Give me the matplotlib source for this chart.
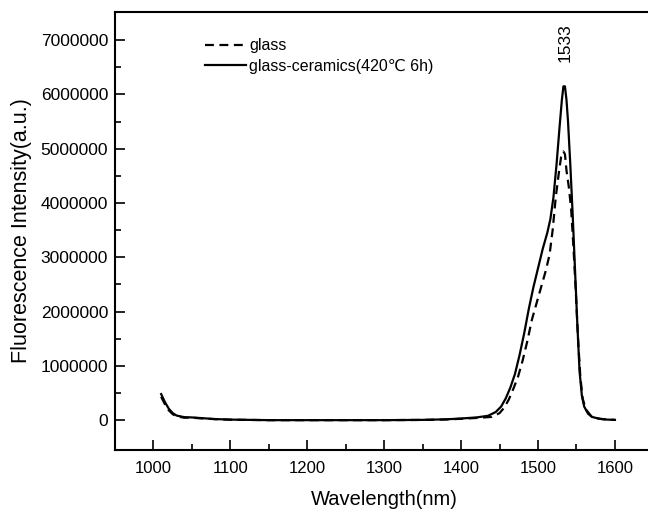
import matplotlib
matplotlib.use("Agg")
import matplotlib.pyplot as plt

plt.rcParams['font.family'] = ['Liberation Sans', 'DejaVu Sans']

# glass-ceramics (420C 6h), solid line
wl_gc = [1010, 1015, 1020, 1025, 1030, 1040, 1050, 1060, 1080, 1100, 1150, 1200, 1300, 1350,
         1380, 1400, 1420, 1435, 1445, 1452, 1458, 1464, 1470, 1476, 1482, 1488, 1494, 1500,
         1506, 1512, 1516, 1520, 1524, 1528, 1531, 1533, 1535, 1537, 1539, 1542, 1545, 1548,
         1551, 1554, 1557, 1560, 1565, 1570, 1580, 1590, 1600]
int_gc = [480000, 330000, 210000, 130000, 85000, 55000, 50000, 40000, 20000, 10000, 0, 0, 0, 5000,
          15000, 30000, 50000, 80000, 150000, 250000, 400000, 600000, 850000, 1200000, 1600000,
          2050000, 2450000, 2800000, 3150000, 3450000, 3700000, 4100000, 4700000, 5400000,
          5900000, 6150000, 6150000, 5900000, 5500000, 4700000, 3800000, 2800000, 1800000,
          900000, 450000, 250000, 120000, 60000, 25000, 10000, 5000]

# glass, dashed line
wl_g = [1010, 1015, 1020, 1025, 1030, 1040, 1050, 1060, 1080, 1100, 1150, 1200, 1300, 1350,
        1380, 1400, 1420, 1440, 1450, 1456, 1462, 1468, 1474, 1480, 1486, 1492, 1498, 1504,
        1510, 1515, 1519, 1523, 1527, 1530, 1533, 1535, 1537, 1540, 1543, 1546, 1549, 1552,
        1555, 1558, 1562, 1570, 1580, 1590, 1600]
int_g = [430000, 290000, 180000, 110000, 70000, 45000, 45000, 35000, 18000, 8000, 0, 0, 0, 4000,
         12000, 25000, 40000, 60000, 130000, 230000, 380000, 580000, 800000, 1100000, 1450000,
         1850000, 2150000, 2450000, 2750000, 3050000, 3500000, 4100000, 4550000, 4850000,
         4950000, 4900000, 4600000, 4300000, 3900000, 3200000, 2400000, 1500000, 800000,
         400000, 200000, 60000, 25000, 10000, 5000]

xticks = [1000, 1100, 1200, 1300, 1400, 1500, 1600]
yticks = [0, 1000000, 2000000, 3000000, 4000000, 5000000, 6000000, 7000000]

fig = plt.figure(figsize=(6.48, 5.11), dpi=100)
ax = fig.add_axes([115 / 648, 1 - 450 / 511, (653.4 - 115) / 648, (450 - 12) / 511])

ax.plot(wl_g, int_g, color='black', lw=1.6, ls=(0, (4, 2.5)), label='glass')
ax.plot(wl_gc, int_gc, color='black', lw=1.6, label='glass-ceramics(420\u2103 6h)')

ax.set_xlim(950, 1650)
ax.set_ylim(-550000, 7520000)
ax.set_xticks(xticks)
ax.set_xticks([1050, 1150, 1250, 1350, 1450, 1550], minor=True)
ax.set_yticks(yticks)
ax.set_yticks([500000 + 1000000 * i for i in range(7)], minor=True)
ax.set_yticklabels([str(v) for v in yticks])
ax.tick_params(direction='in', length=7, width=1.2, labelsize=12.5, pad=5)
ax.tick_params(axis='x', labelsize=12, pad=8)
ax.tick_params(which='minor', direction='in', length=4, width=1.2)
for s in ax.spines.values():
    s.set_linewidth(1.5)

ax.set_xlabel('Wavelength(nm)', fontsize=14.5, labelpad=10)
ax.set_ylabel('Fluorescence Intensity(a.u.)', fontsize=15.5, labelpad=6)

ax.text(1535, 6600000, '1533', rotation=90, ha='center', va='bottom', fontsize=12.5)

ax.legend(loc='upper left', bbox_to_anchor=(0.14, 0.973), frameon=False, fontsize=11.5,
          handlelength=2.6, handletextpad=0.2, labelspacing=0.35)

fig.savefig('out.png', dpi=100)
